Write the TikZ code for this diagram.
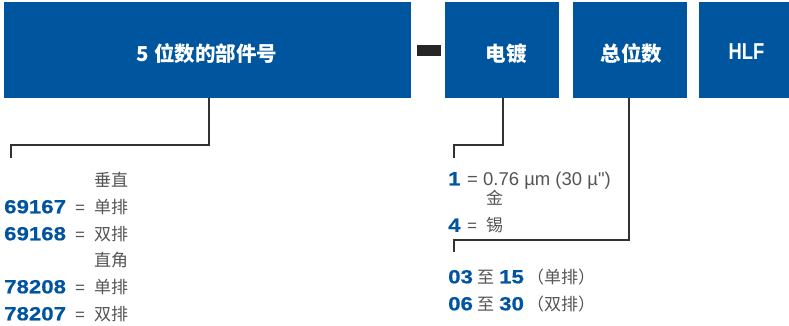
\documentclass[tikz,border=0pt]{standalone}
\usepackage{fontspec}
\setmainfont{Liberation Sans}
\newfontfamily\cjk{Noto Sans CJK SC}
\newfontfamily\rawf{Liberation Sans}
\newfontfamily\numf{Liberation Sans}[FakeStretch=1.17,FakeBold=0.6]
\newfontfamily\hlff{Liberation Sans}[FakeStretch=0.8]
\definecolor{boxblue}{RGB}{0,86,158}
\definecolor{numblue}{RGB}{0,84,160}
\definecolor{txtgray}{RGB}{85,85,85}
\definecolor{lngray}{RGB}{50,50,50}
\tikzset{
  box/.style={fill=boxblue, draw=none, inner sep=0pt},
  boxtext/.style={text=white, font=\cjk\bfseries\fontsize{20.5}{22}\selectfont, inner sep=0pt},
  conn/.style={draw=lngray, line width=2pt},
  num/.style={text=numblue, font=\numf\bfseries\fontsize{19}{22}\selectfont, inner sep=0pt, anchor=base west},
  eqs/.style={text=txtgray, font=\fontsize{17}{20}\selectfont, inner sep=0pt, anchor=base west},
  cn/.style={text=txtgray, font=\cjk\fontsize{17}{20}\selectfont, inner sep=0pt, anchor=base west},
}
\begin{document}
\begin{tikzpicture}[x=1pt,y=-1pt]
\useasboundingbox (0,0) rectangle (789,326);
% boxes
\node[box, minimum width=407pt, minimum height=96pt] (b1) at (207.5,50) {};
\node[box, minimum width=114pt, minimum height=96pt] (b2) at (502,50) {};
\node[box, minimum width=114pt, minimum height=96pt] (b3) at (630,50) {};
\node[box, minimum width=91pt, minimum height=96pt] (b4) at (744.5,50) {};
\node[fill=black!85, inner sep=0pt, minimum width=24pt, minimum height=11pt] (dash) at (429,50.5) {};
% box texts
\node[boxtext] (t1) at (207,54) {5 位数的部件号};
\node[boxtext] (t2) at (506,54) {电镀};
\node[boxtext] (t3) at (631.5,54) {总位数};
\node[text=white, font=\hlff\bfseries\fontsize{23}{24}\selectfont, inner sep=0pt] (t4) at (746.5,52) {HLF};
% connectors
\coordinate (j1) at (209,145); \coordinate (k1) at (11,145); \coordinate (e1) at (11,158);
\coordinate (j2) at (503,145); \coordinate (k2) at (454,145); \coordinate (e2) at (454,158);
\coordinate (j3) at (629,240); \coordinate (k3) at (454,240); \coordinate (e3) at (454,252);
\draw[conn] (b1.south -| j1) -- (j1) -- (k1) -- (e1);
\draw[conn] (b2.south -| j2) -- (j2) -- (k2) -- (e2);
\draw[conn] (b3.south -| j3) -- (j3) -- (k3) -- (e3);
% left column
\node[cn] (l0) at (94,186.5) {垂直};
\node[num] (n1) at (4,213.3) {69167};
\node[eqs] (q1) at (75,213.3) {=};
\node[cn] (c1) at (94,213) {单排};
\node[num] (n2) at (4,240.3) {69168};
\node[eqs] (q2) at (75,240.3) {=};
\node[cn] (c2) at (94,240) {双排};
\node[cn] (l1) at (94,266.5) {直角};
\node[num] (n3) at (4,293.3) {78208};
\node[eqs] (q3) at (75,293.3) {=};
\node[cn] (c3) at (94,293) {单排};
\node[num] (n4) at (4,320.3) {78207};
\node[eqs] (q4) at (75,320.3) {=};
\node[cn] (c4) at (94,320) {双排};
% right column
\node[num] (r1) at (448,185.3) {1};
\node[eqs, font=\rawf\fontsize{18.5}{20}\selectfont] (rq1) at (467,185.3) {= 0.76 µm (30 µ")};
\node[cn] (rg) at (486,204.5) {金};
\node[num] (r4) at (448,231.8) {4};
\node[eqs] (rq4) at (467,231.8) {=};
\node[cn] (rx) at (486,231.5) {锡};
\node[num] (r03) at (448,283.3) {03};
\node[cn] (rz1) at (477,283) {至};
\node[num] (r15) at (499,283.3) {15};
\node[cn] (rp1) at (527,283) {（单排）};
\node[num] (r06) at (448,310.3) {06};
\node[cn] (rz2) at (477,310) {至};
\node[num] (r30) at (499,310.3) {30};
\node[cn] (rp2) at (527,310) {（双排）};
\end{tikzpicture}
\end{document}
